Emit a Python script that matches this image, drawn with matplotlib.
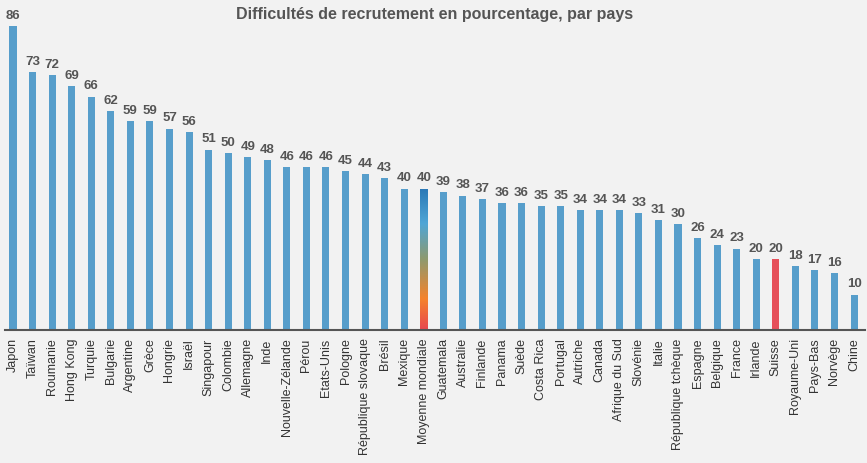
import numpy as np
import matplotlib
matplotlib.use("Agg")
import matplotlib.pyplot as plt
from matplotlib.colors import LinearSegmentedColormap

pays = ["Japon", "Taïwan", "Roumanie", "Hong Kong", "Turquie", "Bulgarie", "Argentine",
        "Grèce", "Hongrie", "Israël", "Singapour", "Colombie", "Allemagne", "Inde",
        "Nouvelle-Zélande", "Pérou", "Etats-Unis", "Pologne", "République slovaque",
        "Brésil", "Mexique", "Moyenne mondiale", "Guatemala", "Australie", "Finlande",
        "Panama", "Suède", "Costa Rica", "Portugal", "Autriche", "Canada", "Afrique du Sud",
        "Slovénie", "Italie", "République tchèque", "Espagne", "Belgique", "France",
        "Irlande", "Suisse", "Royaume-Uni", "Pays-Bas", "Norvège", "Chine"]
valeurs = [86, 73, 72, 69, 66, 62, 59, 59, 57, 56, 51, 50, 49, 48, 46, 46, 46, 45, 44,
           43, 40, 40, 39, 38, 37, 36, 36, 35, 35, 34, 34, 34, 33, 31, 30, 26, 24, 23,
           20, 20, 18, 17, 16, 10]
moyenne = "Moyenne mondiale"
suisse = "Suisse"

bleu = "#579ecb"
rouge = "#e6505a"
fond = "#f2f2f2"
largeur = 0.36
police = ["Liberation Sans", "DejaVu Sans"]

fig = plt.figure(figsize=(8.67, 4.63), dpi=100, facecolor=fond)
ax = fig.add_axes([5 / 867, 133 / 463, 860 / 867, 304 / 463])
ax.set_facecolor(fond)

x = np.arange(len(pays))
couleurs = []
for p in pays:
    if p == suisse:
        couleurs.append(rouge)
    elif p == moyenne:
        couleurs.append("none")
    else:
        couleurs.append(bleu)
barres = ax.bar(x, valeurs, width=largeur, color=couleurs, zorder=2)

# barre en dégradé pour la moyenne mondiale
i = pays.index(moyenne)
degrade = LinearSegmentedColormap.from_list(
    "degrade", [(0, "#e8474f"), (0.22, "#f5832c"), (0.5, "#8e9a6e"),
                (0.75, "#4fa6d6"), (1, "#2a78b6")])
b = barres[i]
img = ax.imshow(np.linspace(0, 1, 256).reshape(-1, 1), cmap=degrade, origin="lower",
                aspect="auto", extent=[b.get_x(), b.get_x() + b.get_width(), 0, valeurs[i]],
                zorder=2)
img.set_clip_path(b)

for xi, v in zip(x, valeurs):
    ax.text(xi, v + 1.2, str(v), ha="center", va="bottom", fontsize=9.5,
            fontweight="bold", color="#555555", family=police, clip_on=False)

ax.set_xlim(-0.41, len(pays) - 1 + 0.56)
ax.set_ylim(0, 86)
ax.set_xticks(x)
ax.set_xticklabels(pays, rotation=90, fontsize=9, color="#333333", family=police)
ax.tick_params(axis="x", length=0, pad=6)
ax.set_yticks([])
for s in ["top", "right", "left"]:
    ax.spines[s].set_visible(False)
ax.spines["bottom"].set_color("#555555")
ax.spines["bottom"].set_linewidth(1.5)
ax.spines["bottom"].set_zorder(3)

fig.text(435 / 867, 1 - 15 / 463, "Difficultés de recrutement en pourcentage, par pays",
         ha="center", va="center", fontsize=11.5, fontweight="bold",
         family=police, color="#555555")

fig.savefig("out.png", dpi=100, facecolor=fond)
